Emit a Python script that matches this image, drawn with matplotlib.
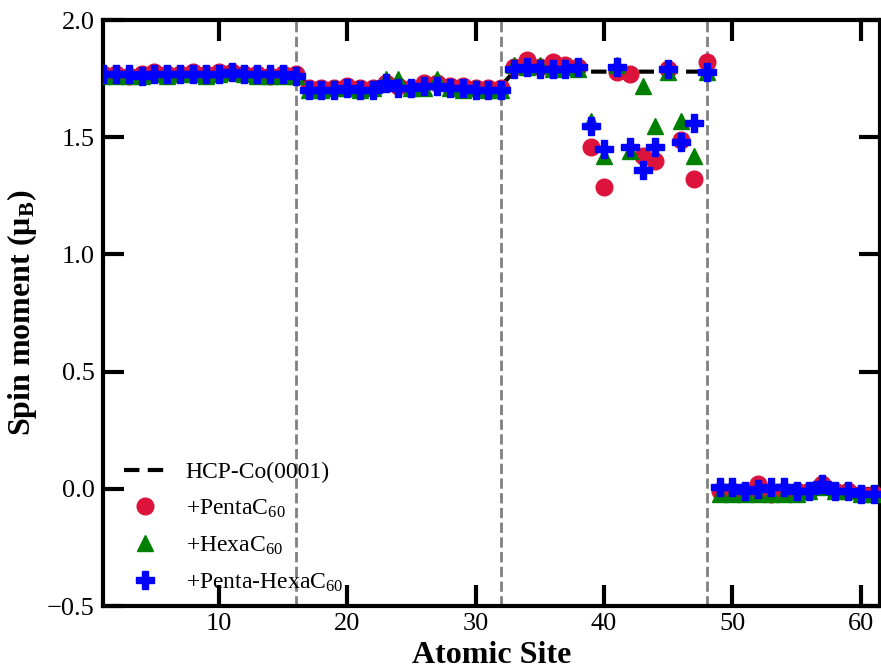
import numpy as np
import matplotlib
matplotlib.use('Agg')
import matplotlib.pyplot as plt

plt.rcParams['font.family'] = 'Liberation Serif'
plt.rcParams['mathtext.fontset'] = 'custom'
plt.rcParams['mathtext.rm'] = 'Liberation Serif'
plt.rcParams['mathtext.it'] = 'Liberation Serif:italic'
plt.rcParams['mathtext.bf'] = 'Liberation Serif:bold'

sites = np.arange(1, 62)

hcp = ([1.77] * 16 + [1.72] * 16 + [1.78] * 16 +
       [-0.01, -0.01, -0.01, -0.01, -0.01, -0.01, -0.01, -0.01, -0.01, -0.01, -0.02, -0.02, -0.02])

penta = [1.77, 1.77, 1.76, 1.77, 1.78, 1.77, 1.77, 1.78, 1.77, 1.78, 1.78, 1.77, 1.77, 1.76, 1.77, 1.77,
         1.71, 1.71, 1.71, 1.72, 1.71, 1.71, 1.73, 1.72, 1.71, 1.73, 1.73, 1.72, 1.72, 1.71, 1.71, 1.71,
         1.80, 1.83, 1.80, 1.82, 1.81, 1.80, 1.46, 1.29, 1.78, 1.77, 1.42, 1.40, 1.79, 1.49, 1.32, 1.82,
         -0.01, -0.01, -0.01, 0.02, -0.02, -0.01, -0.01, -0.01, 0.02, -0.01, -0.01, -0.02, -0.02]

hexa = [1.76, 1.76, 1.76, 1.76, 1.77, 1.76, 1.77, 1.77, 1.76, 1.77, 1.78, 1.77, 1.76, 1.76, 1.76, 1.76,
        1.70, 1.70, 1.71, 1.71, 1.70, 1.71, 1.75, 1.75, 1.71, 1.71, 1.75, 1.71, 1.70, 1.71, 1.70, 1.70,
        1.81, 1.80, 1.81, 1.79, 1.80, 1.79, 1.57, 1.42, 1.81, 1.44, 1.72, 1.55, 1.78, 1.57, 1.42, 1.78,
        -0.02, -0.02, -0.02, -0.02, -0.02, -0.02, -0.02, -0.01, 0.01, -0.01, -0.01, -0.02, -0.02]

penta_hexa = [1.77, 1.77, 1.77, 1.76, 1.77, 1.77, 1.77, 1.77, 1.77, 1.77, 1.78, 1.77, 1.77, 1.77, 1.77, 1.76,
              1.70, 1.70, 1.70, 1.71, 1.70, 1.70, 1.73, 1.71, 1.71, 1.72, 1.72, 1.71, 1.71, 1.70, 1.70, 1.70,
              1.79, 1.80, 1.79, 1.79, 1.79, 1.80, 1.55, 1.45, 1.80, 1.46, 1.36, 1.46, 1.79, 1.48, 1.56, 1.78,
              0.01, 0.01, -0.01, 0.0, 0.01, 0.01, -0.01, -0.01, 0.02, -0.01, -0.01, -0.02, -0.02]

boundaries = [16, 32, 48]

fig = plt.figure(figsize=(8.81, 6.69), dpi=100)
ax = fig.add_axes([0.117, 0.094, 0.882, 0.876])

for b in boundaries:
    ax.axvline(b, color='gray', lw=2, ls='--', zorder=1)

# reference line, broken between the Co slab and the vacuum/C60 region
ax.plot(sites[:48], hcp[:48], color='black', lw=3, ls=(0, (3.7, 2)), label='HCP-Co(0001)', zorder=3)
ax.plot(sites[48:], hcp[48:], color='black', lw=3, ls=(0, (3.7, 2)), zorder=3)

ax.plot(sites, penta, 'o', color='crimson', ms=12, ls='none', label='+PentaC$_{60}$', zorder=4)
ax.plot(sites, hexa, '^', color='green', ms=12, ls='none', label='+HexaC$_{60}$', zorder=5)
ax.plot(sites, penta_hexa, 'P', color='blue', ms=12.5, ls='none', label='+Penta-HexaC$_{60}$', zorder=6)

ax.set_xlim(1, 61.5)
ax.set_ylim(-0.5, 2.0)
ax.set_xticks([10, 20, 30, 40, 50, 60])
ax.set_yticks([-0.5, 0.0, 0.5, 1.0, 1.5, 2.0])
ax.set_yticklabels(['\u22120.5', '0.0', '0.5', '1.0', '1.5', '2.0'])

ax.tick_params(direction='in', length=15, width=3, labelsize=19,
               top=True, right=True)
ax.tick_params(axis='x', pad=5)
ax.tick_params(axis='y', pad=6)
for sp in ax.spines.values():
    sp.set_linewidth(3)

ax.set_xlabel('Atomic Site', fontsize=23, fontweight='bold', labelpad=4)
ax.set_ylabel('Spin moment (\u03bc$_\\mathbf{B}$)', fontsize=23, fontweight='bold', labelpad=6)

ax.legend(loc='lower left', bbox_to_anchor=(0.0, -0.015), frameon=False, fontsize=17,
          handlelength=1.75, labelspacing=0.62, handletextpad=0.85)

fig.savefig('out.png', dpi=100)
